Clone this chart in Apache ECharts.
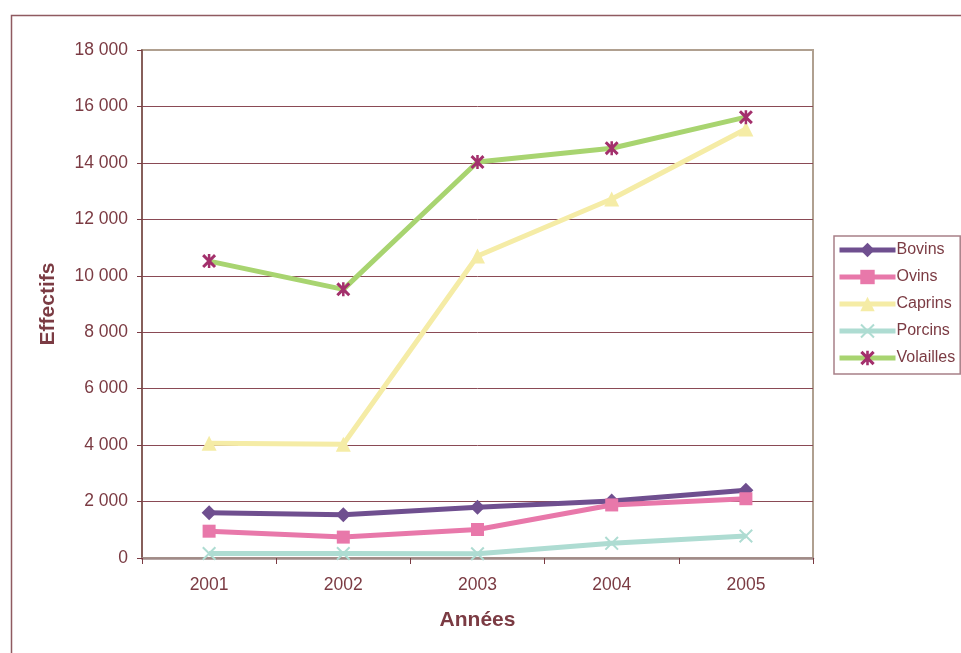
<!DOCTYPE html>
<html>
<head>
<meta charset="utf-8">
<script src="https://cdn.jsdelivr.net/npm/echarts@6/dist/echarts.min.js"></script>
<style>html,body{margin:0;padding:0;background:#fff;}#c{width:961px;height:653px;}</style>
</head>
<body>
<div id="c"></div>
<script>
const categories = ['2001', '2002', '2003', '2004', '2005'];
const bovins = [1600, 1530, 1800, 2020, 2400];
const ovins = [950, 740, 1010, 1880, 2100];
const caprins = [4070, 4030, 10700, 12720, 15200];
const porcins = [160, 160, 150, 520, 780];
const volailles = [10520, 9520, 14030, 14520, 15620];
const yTicks = [0, 2000, 4000, 6000, 8000, 10000, 12000, 14000, 16000, 18000];

const txt = '#7b3b43';
const grid = '#8a4a55';
const xShape = 'path://M0,1 L1,0 L5,4 L9,0 L10,1 L6,5 L10,9 L9,10 L5,6 L1,10 L0,9 L4,5 Z';
const starShape = 'path://M0,1.5 L1.5,0 L5,3.5 L8.5,0 L10,1.5 L6.5,5 L10,8.5 L8.5,10 L5,6.5 L1.5,10 L0,8.5 L3.5,5 Z M4.1,0 L5.9,0 L5.9,10 L4.1,10 Z';

const chart = echarts.init(document.getElementById('c'));
function mk(name, data, color, symbol, size, symColor) {
  return {
    name: name, type: 'line', data: data,
    symbol: symbol, symbolSize: size,
    lineStyle: { color: color, width: 5 },
    itemStyle: { color: symColor || color },
    emphasis: { disabled: true },
    animation: false
  };
}
chart.setOption({
  backgroundColor: '#fff',
  textStyle: { fontFamily: 'Liberation Sans, Arial, sans-serif', color: txt },
  graphic: [{
    type: 'rect', left: 9, top: 13, shape: { width: 1000, height: 1000 },
    style: { fill: 'none', stroke: '#8f5a60', lineWidth: 1.5 }, silent: true, z: -10
  }],
  grid: {
    left: 142, right: 148, top: 50, bottom: 95,
    show: true, borderColor: '#b0a090', borderWidth: 2, backgroundColor: '#fff'
  },
  legend: {
    orient: 'vertical', left: 834, top: 236,
    padding: [6, 5, 8, 3],
    borderColor: '#a88088', borderWidth: 1.5,
    itemWidth: 56, itemHeight: 18, itemGap: 11,
    lineStyle: { width: 5 },
    textStyle: { fontSize: 16, color: txt, lineHeight: 16, padding: [0, 0, 0, -4] },
    data: ['Bovins', 'Ovins', 'Caprins', 'Porcins', 'Volailles']
  },
  xAxis: {
    type: 'category', data: categories, boundaryGap: true,
    name: 'Années', nameLocation: 'middle', nameGap: 52,
    nameTextStyle: { fontSize: 21, fontWeight: 'bold', color: txt },
    axisLine: { lineStyle: { color: '#a08a88', width: 2.5 } },
    axisTick: { show: true, length: 6, lineStyle: { color: txt } },
    axisLabel: { fontSize: 17.5, color: txt, margin: 18 }
  },
  yAxis: {
    type: 'value', min: 0, max: 18000, interval: 2000,
    name: 'Effectifs', nameLocation: 'middle', nameGap: 83,
    nameTextStyle: { fontSize: 21, fontWeight: 'bold', color: txt },
    axisLine: { show: true, lineStyle: { color: '#7a4a4a', width: 1.5 } },
    axisTick: { show: true, length: 5, lineStyle: { color: txt } },
    axisLabel: {
      fontSize: 17.5, color: txt, margin: 14,
      formatter: v => String(v).replace(/\B(?=(\d{3})+(?!\d))/g, ' ')
    },
    splitLine: { show: true, lineStyle: { color: yTicks.map((t, i) => i === yTicks.length - 1 ? '#b0a090' : grid), width: 1 } }
  },
  series: [
    mk('Bovins', bovins, '#6f4f8f', 'diamond', 15),
    mk('Ovins', ovins, '#e878aa', 'rect', 13),
    mk('Caprins', caprins, '#f5eca6', 'triangle', 15),
    mk('Porcins', porcins, '#aedcd2', xShape, 14),
    mk('Volailles', volailles, '#a8d470', starShape, 14, '#a3306c')
  ]
});
</script>
</body>
</html>
